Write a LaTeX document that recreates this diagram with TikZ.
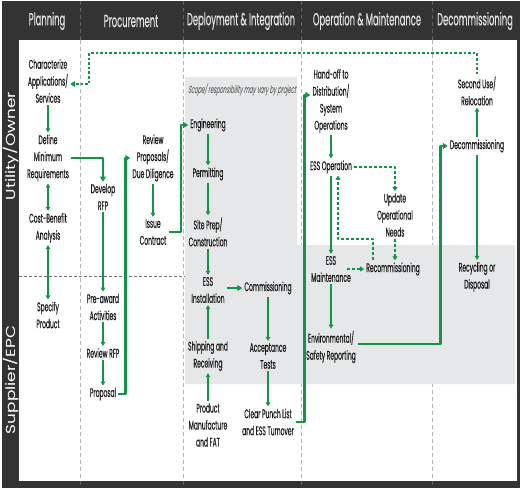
\documentclass[tikz,border=0pt]{standalone}
\usepackage{fontspec}
\setmainfont{Poppins}[FakeStretch=0.48,FakeBold=0.25]
\newfontfamily\lanefont{Poppins}[FakeStretch=1.3]
\newfontfamily\notefont{Poppins}[FakeStretch=0.5,FakeSlant=0.2]
\usetikzlibrary{arrows.meta}
\definecolor{framegray}{RGB}{51,51,51}
\definecolor{headtext}{RGB}{228,228,228}
\definecolor{flowgreen}{RGB}{16,150,72}
\definecolor{scopegray}{RGB}{230,231,232}
\begin{document}
\begin{tikzpicture}[x=1pt, y=-1pt, font=\fontsize{12.5}{17}\selectfont, line join=round, >={Triangle[length=4pt,width=4.5pt]},
    act/.style={align=center, inner sep=2pt, text=black!90},
    head/.style={font=\fontsize{17.5}{19}\selectfont, text=headtext},
    lane/.style={font=\lanefont\fontsize{13}{15}\selectfont, text=white, rotate=90},
    note/.style={font=\notefont\fontsize{10.4}{12}\selectfont, text=black!75},
    flow/.style={->, flowgreen, line width=1.4pt},
    bigflow/.style={-{Triangle[length=5pt,width=6pt]}, flowgreen, line width=2.6pt},
    dashflow/.style={-{Triangle[length=4pt,width=5pt]}, flowgreen, line width=2pt, dash pattern=on 3pt off 2pt},
    dotflow/.style={-{Triangle[length=4.5pt,width=5.5pt]}, flowgreen, line width=2.6pt, dash pattern=on 2.6pt off 2pt},
    div/.style={black!30, thin, dash pattern=on 4pt off 3pt},
    hdiv/.style={black!62, thin, dash pattern=on 4pt off 3pt}]
    \useasboundingbox (0,0) rectangle (525,493);
    % frame and lanes
    \fill[framegray] (2,1) rectangle (520,488);
    \fill[white] (19,40) rectangle (517,481);
    \draw[black!55, thin, dash pattern=on 3pt off 2pt] (19,276) -- (185,276);
    \foreach \x in {80,183,301,432} {
        \draw[hdiv] (\x,1) -- (\x,40);
        \draw[div] (\x,40) -- (\x,481);
        \draw[hdiv] (\x,481) -- (\x,488);
    }
    \fill[scopegray] (185,77) -- (297,77) -- (297,245) -- (515,245) -- (515,384) -- (185,384) -- cycle;
    \node[note] (scopenote) at (242,90) {Scope/ responsibility may vary by project};
    \foreach \x/\t in {47/Planning,131/Procurement,241/{Deployment \& Integration},367/{Operation \& Maintenance},475/Decommissioning}
        \node[head] (head\x) at (\x,21) {\t};
    \node[lane] (owner) at (11,146) {Utility/Owner};
    \node[lane] (supplier) at (11,380) {Supplier/EPC};

    % planning and procurement
    \node[act] (char) at (48,81) {Characterize\\Applications/\\Services};
    \node[act] (defmin) at (48,158) {Define\\Minimum\\Requirements};
    \node[act] (costben) at (48,228) {Cost-Benefit\\Analysis};
    \node[act] (spec) at (48,315) {Specify\\Product};
    \node[act] (devrfp) at (103,197) {Develop\\RFP};
    \node[act] (preaw) at (103,307) {Pre-award\\Activities};
    \node[act] (revrfp) at (103,353) {Review RFP};
    \node[act] (prop) at (103,394) {Proposal};
    \node[act] (revprop) at (153,158) {Review\\Proposals/\\Due Diligence};
    \node[act] (issue) at (153,232) {Issue\\Contract};

    % deployment
    \node[act] (eng) at (208,125) {Engineering};
    \node[act] (perm) at (208,174) {Permitting};
    \node[act] (site) at (208,232) {Site Prep/\\Construction};
    \node[act] (install) at (208,290) {ESS\\Installation};
    \node[act] (ship) at (208,356) {Shipping and\\Receiving};
    \node[act] (prod) at (208,425) {Product\\Manufacture\\and FAT};
    \node[act] (comm) at (268,288) {Commissioning};
    \node[act] (accept) at (268,356) {Acceptance\\Tests};
    \node[act] (punch) at (268,422) {Clear Punch List\\and ESS Turnover};

    % operation and decommissioning
    \node[act] (handoff) at (331,101) {Hand-off to\\Distribution/\\System\\Operations};
    \node[act] (essop) at (331,167) {ESS Operation};
    \node[act] (update) at (395,215) {Update\\Operational\\Needs};
    \node[act] (maint) at (331,269) {ESS\\Maintenance};
    \node[act] (recomm) at (393,269) {Recommissioning};
    \node[act] (envsafe) at (331,347) {Environmental/\\Safety Reporting};
    \node[act] (second) at (477,91) {Second Use/\\Relocation};
    \node[act] (decom) at (477,146) {Decommissioning};
    \node[act] (recyc) at (477,277) {Recycling or\\Disposal};

    \draw[flow] (char) -- (defmin);
    \draw[flow,<->] (defmin) -- (costben);
    \draw[flow,<->] (costben) -- (spec);
    \draw[bigflow] (defmin.east) -| (devrfp.north);
    \draw[flow] (devrfp) -- (preaw);
    \draw[flow] (preaw) -- (revrfp);
    \draw[flow] (revrfp) -- (prop);
    \draw[bigflow] (prop.east) -| ([xshift=-5pt]revprop.west) -- (revprop.west);
    \draw[flow] (revprop) -- (issue);
    \draw[bigflow] (issue.east) -| ([xshift=-7pt]eng.west) -- (eng.west);
    \draw[flow] (eng) -- (perm);
    \draw[flow] (perm) -- (site);
    \draw[flow] (site) -- (install);
    \draw[flow] (ship) -- (install);
    \draw[flow] (prod) -- (ship);
    \draw[bigflow] (install.east |- comm) -- (comm.west);
    \draw[flow] (comm) -- (accept);
    \draw[flow] (accept) -- (punch);
    \draw[bigflow] (punch.east) -| ([xshift=-6pt,yshift=6pt]handoff.west) -- ([yshift=6pt]handoff.west);
    \draw[flow] (handoff) -- (essop);
    \draw[flow] (essop) -- (maint);
    \draw[dashflow] ([xshift=-20pt]recomm.north) -- ++(0,-21) -| ([xshift=7pt]essop.south);
    \draw[dashflow] (essop.east) -| (update.north);
    \draw[dashflow] (update.south) -- (update.south |- recomm.north);
    \draw[dashflow] ([xshift=-6pt]maint.east) -- (recomm.west);
    \draw[flow] (maint) -- (envsafe);
    \draw[bigflow] ([yshift=3pt]envsafe.east) -| ([xshift=-7pt]decom.west) -- (decom.west);
    \draw[flow] (decom) -- (second);
    \draw[flow] (decom) -- (recyc);
    \coordinate (loopcorner) at (89,53);
    \draw[dotflow] (second.north) |- (loopcorner) |- ([yshift=-3pt]char.east);
\end{tikzpicture}
\end{document}
